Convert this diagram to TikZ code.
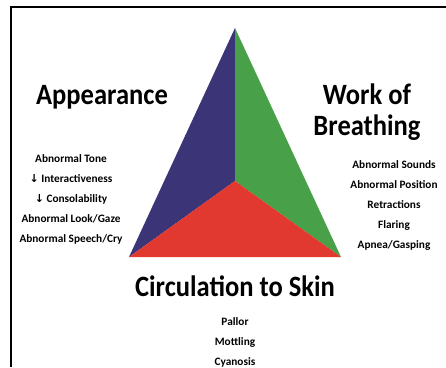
\documentclass[tikz,border=0pt]{standalone}
\usepackage{fontspec}
\setmainfont{Carlito}
\newfontfamily\headfont[FakeStretch=0.9]{Carlito}
\newfontfamily\arrowfont{DejaVu Sans}
\definecolor{apblue}{HTML}{3B3577}
\definecolor{wobgreen}{HTML}{48A048}
\definecolor{circred}{HTML}{E1392F}
\tikzset{
  heading/.style={font=\headfont\bfseries\fontsize{29.5}{31}\selectfont, align=center, inner sep=0pt},
  signs/.style={font=\bfseries\fontsize{11.3}{20}\selectfont, align=center, inner sep=0pt},
}
\newcommand{\dnarrow}{{\arrowfont\bfseries\fontsize{11}{20}\selectfont ↓}}
\begin{document}
\begin{tikzpicture}[x=1pt, y=-1pt]
\useasboundingbox (0,0) rectangle (446,367);
\draw[line width=2pt] (11,367) -- (11,7) -- (446,7);
% triangle
\coordinate (top) at (235,28);
\coordinate (lft) at (129,257);
\coordinate (rgt) at (341,257);
\coordinate (mid) at (235,181);
\fill[apblue] (top) -- (lft) -- (mid) -- cycle;
\fill[wobgreen] (top) -- (mid) -- (rgt) -- cycle;
\fill[circred] (lft) -- (mid) -- (rgt) -- cycle;
% headings
\node[heading] (appear) at (102,97) {Appearance};
\node[heading] (wob) at (367,112) {Work of\\Breathing};
\node[heading] (circ) at (235,286) {Circulation to Skin};
% signs
\node[signs] (appsigns) at (71,199.5) {Abnormal Tone\\\dnarrow\ Interactiveness\\\dnarrow\ Consolability\\Abnormal Look/Gaze\\Abnormal Speech/Cry};
\node[signs] (wobsigns) at (394,205.5) {Abnormal Sounds\\Abnormal Position\\Retractions\\Flaring\\Apnea/Gasping};
\node[signs] (circsigns) at (235,342.5) {Pallor\\Mottling\\Cyanosis};
\end{tikzpicture}
\end{document}
